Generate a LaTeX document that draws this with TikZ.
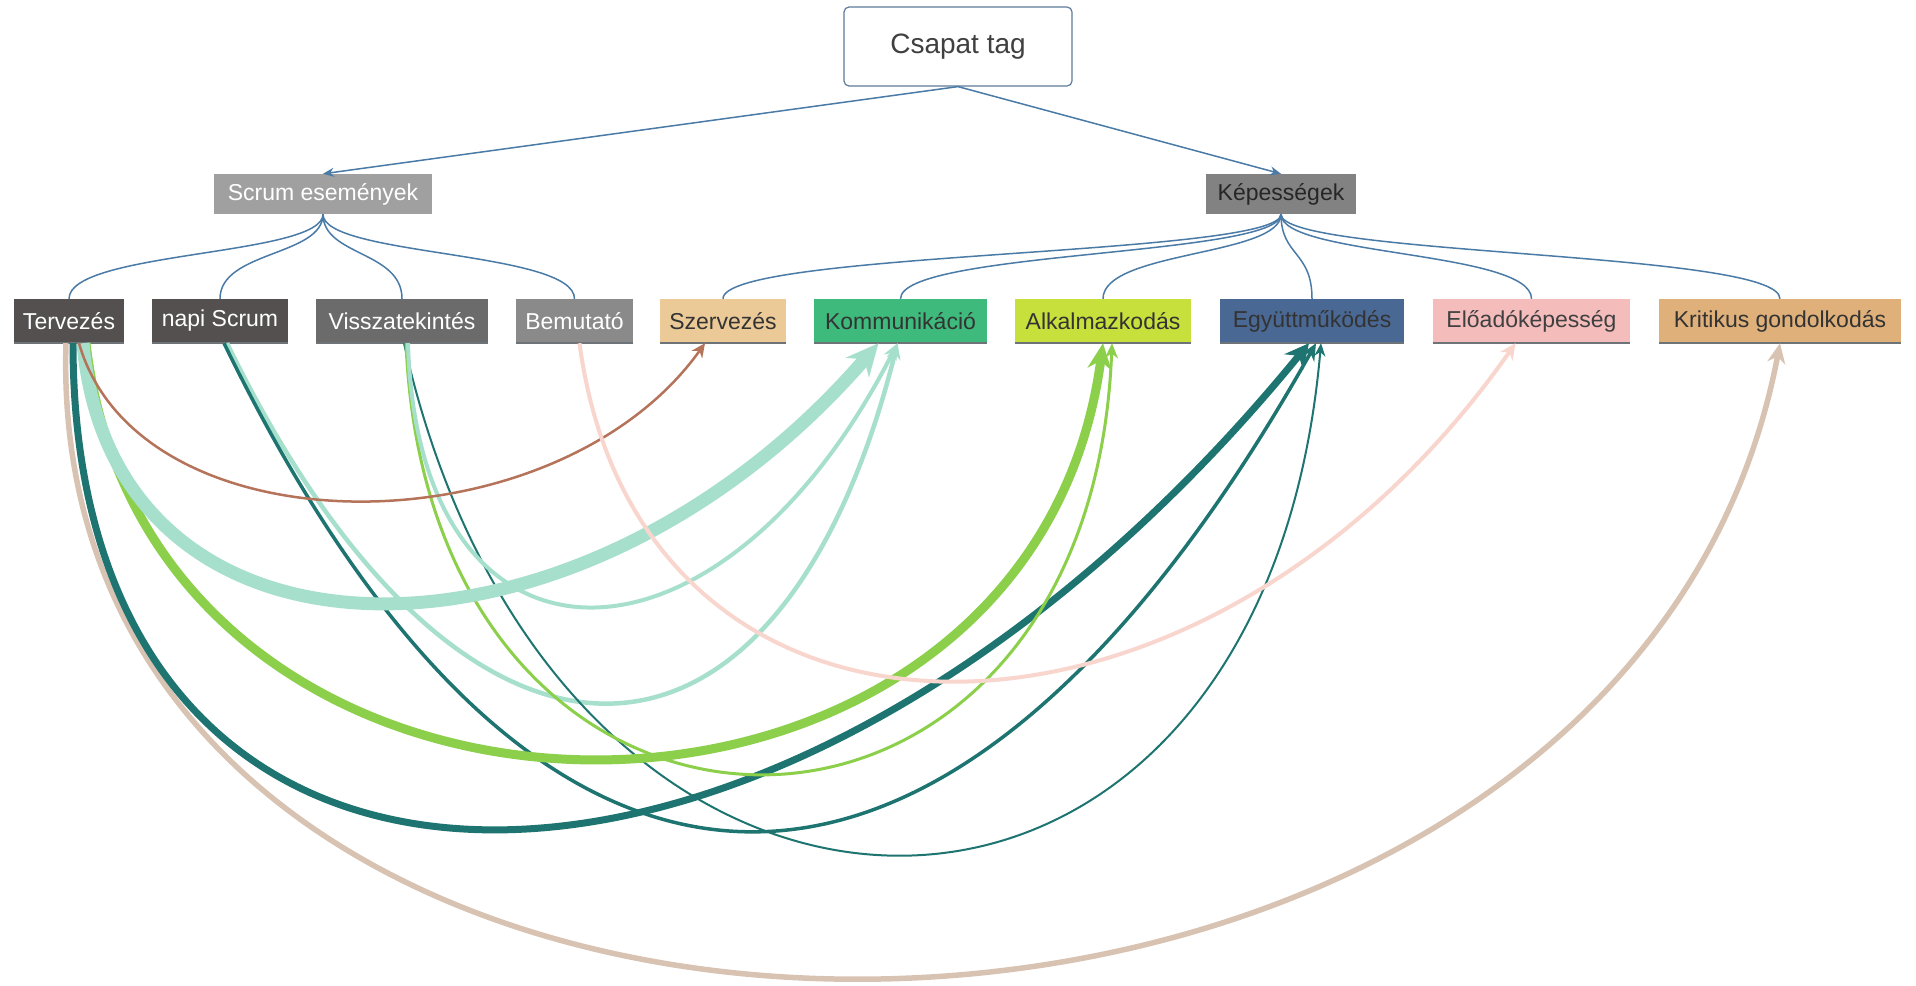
\documentclass[tikz,border=0pt]{standalone}
\usepackage{fontspec}
\setmainfont{Liberation Sans}
\usetikzlibrary{arrows.meta}
\definecolor{treeblue}{HTML}{4A7BA6}
\definecolor{topborder}{HTML}{5E7C99}
\definecolor{toptext}{HTML}{404040}
\definecolor{scrumgray}{HTML}{A0A0A0}
\definecolor{kepgray}{HTML}{828282}
\definecolor{darkev}{HTML}{545050}
\definecolor{midev}{HTML}{6C6B6B}
\definecolor{lightev}{HTML}{8A8A8A}
\definecolor{szervfill}{HTML}{ECCA98}
\definecolor{kommfill}{HTML}{3DBA7C}
\definecolor{alkfill}{HTML}{C8E03C}
\definecolor{egyfill}{HTML}{4A6894}
\definecolor{elofill}{HTML}{F5BCBC}
\definecolor{kritfill}{HTML}{DFB07A}
\definecolor{bottomgray}{HTML}{6E7378}
\definecolor{cbrown}{HTML}{B5735A}
\definecolor{cteal}{HTML}{A6E0CD}
\definecolor{cgreen}{HTML}{8CCF4A}
\definecolor{cdark}{HTML}{1E7470}
\definecolor{cpink}{HTML}{F9D6CD}
\definecolor{ctan}{HTML}{D8C3B3}
\begin{document}
\begin{tikzpicture}[x=1pt,y=-1pt,
  topbox/.style={rectangle, rounded corners=5pt, draw=topborder, line width=1.2pt, fill=white,
    text=toptext, minimum width=228pt, minimum height=79pt, inner sep=0pt,
    font=\fontsize{28}{32}\selectfont},
  midbox/.style={rectangle, inner sep=0pt, minimum height=40pt, font=\fontsize{23}{26}\selectfont},
  rowbox/.style={rectangle, inner sep=0pt, minimum height=44pt, font=\fontsize{23}{26}\selectfont},
  treeline/.style={draw=treeblue, line width=1.5pt},
  treearrow/.style={treeline, -{Stealth[length=11pt,width=9pt]}},
  bottomline/.style={draw=bottomgray, line width=2.5pt},
  arc/.style n args={4}{draw=#1, line width=#2, -{Stealth[length=#3,width=#4]}}
]
\useasboundingbox[fill=white] (0,0) rectangle (1916,985);

% nodes
\node[topbox] (csapat) at (958,46.5) {Csapat tag};
\node[midbox, fill=scrumgray, text=white, minimum width=218pt] (scrum) at (323,194) {Scrum események};
\node[midbox, fill=kepgray, text=black!85, minimum width=150pt] (kep) at (1281,194) {Képességek};

\node[rowbox, fill=darkev, text=white, minimum width=110pt] (terv) at (69,321) {Tervezés};
\node[rowbox, fill=darkev, text=white, minimum width=136pt] (napi) at (220,321) {napi Scrum};
\node[rowbox, fill=midev, text=white, minimum width=172pt] (vissza) at (402,321) {Visszatekintés};
\node[rowbox, fill=lightev, text=white, minimum width=117pt] (bemut) at (574.5,321) {Bemutató};
\node[rowbox, fill=szervfill, text=black!80, minimum width=126pt] (szerv) at (723,321) {Szervezés};
\node[rowbox, fill=kommfill, text=black!80, minimum width=173pt] (komm) at (900.5,321) {Kommunikáció};
\node[rowbox, fill=alkfill, text=black!80, minimum width=176pt] (alk) at (1103,321) {Alkalmazkodás};
\node[rowbox, fill=egyfill, text=black!80, minimum width=184pt] (egy) at (1312,321) {Együttműködés};
\node[rowbox, fill=elofill, text=black!75, minimum width=197pt] (elo) at (1531.5,321) {Előadóképesség};
\node[rowbox, fill=kritfill, text=black!80, minimum width=242pt] (krit) at (1780,321) {Kritikus gondolkodás};

\foreach \n in {terv,napi,vissza,bemut,szerv,komm,alk,egy,elo,krit}
  \draw[bottomline] (\n.south west) -- (\n.south east);

% tree connectors
\draw[treearrow] (csapat.south) -- (scrum.north);
\draw[treearrow] (csapat.south) -- (kep.north);
\foreach \c in {terv,napi,vissza,bemut}
  \draw[treeline] (scrum.south) .. controls +(0,42) and +(0,-48) .. (\c.north);
\foreach \c in {szerv,komm,alk,egy,elo,krit}
  \draw[treeline] (kep.south) .. controls +(0,42) and +(0,-48) .. (\c.north);

% arcs
\draw[arc={ctan}{5.5pt}{20pt}{18pt}] ([xshift=-3pt]terv.south) .. controls +(-26,846) and +(-160,846) .. (krit.south);
\draw[arc={cdark}{7pt}{24pt}{24pt}] ([xshift=4pt]terv.south) .. controls +(0,647) and +(-529,647) .. ([xshift=-3pt]egy.south);
\draw[arc={cteal}{4.5pt}{16pt}{14pt}] ([xshift=7pt]napi.south) .. controls +(233,479) and +(-120,479) .. ([xshift=-3pt]komm.south);
\draw[arc={cdark}{3.5pt}{17pt}{15pt}] ([xshift=4pt]napi.south) .. controls +(316,650) and +(-366,650) .. ([xshift=4pt]egy.south);
\draw[arc={cdark}{2pt}{13pt}{11pt}] ([xshift=2pt]vissza.south) .. controls +(153,682) and +(-59,682) .. ([xshift=9pt]egy.south);
\draw[arc={cgreen}{9pt}{26pt}{24pt}] ([xshift=17pt]terv.south) .. controls +(64,553) and +(-73,553) .. (alk.south);
\draw[arc={cgreen}{3pt}{15pt}{13pt}] ([xshift=4pt]vissza.south) .. controls +(24,574) and +(-22,574) .. ([xshift=9pt]alk.south);
\draw[arc={cteal}{4pt}{16pt}{14pt}] ([xshift=6pt]vissza.south) .. controls +(10,351) and +(-178,351) .. ([xshift=-3pt]komm.south);
\draw[arc={cteal}{13pt}{32pt}{30pt}] ([xshift=14pt]terv.south) .. controls +(30,345) and +(-298,345) .. ([xshift=-22pt]komm.south);
\draw[arc={cbrown}{2.5pt}{14pt}{13pt}] ([xshift=10pt]terv.south) .. controls +(60,210) and +(-150,210) .. ([xshift=-18pt]szerv.south);
\draw[arc={cpink}{4pt}{16pt}{15pt}] ([xshift=5pt]bemut.south) .. controls +(60,450) and +(-315,450) .. ([xshift=-16pt]elo.south);
\end{tikzpicture}
\end{document}
